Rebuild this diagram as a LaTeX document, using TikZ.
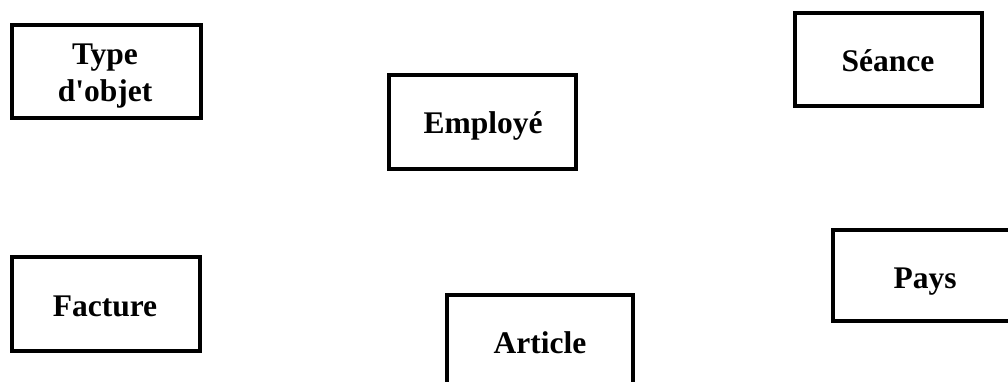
\documentclass[tikz,border=0pt]{standalone}
\usepackage{fontspec}
\setmainfont{Liberation Serif}
\begin{document}
\begin{tikzpicture}[x=1pt,y=-1pt,
  box/.style={draw=black, line width=4pt, rectangle, inner sep=0pt, fill=none},
  lbl/.style={font=\fontsize{31.5}{37}\selectfont\bfseries, inner sep=0pt, anchor=base, align=center}]
\useasboundingbox (0,0) rectangle (1008,382);
\clip (0,0) rectangle (1008,382);
% boxes
\node[box, minimum width=189pt, minimum height=93pt] (type) at (106.5,71.5) {};
\node[box, minimum width=187pt, minimum height=94pt] (emp) at (482.5,122) {};
\node[box, minimum width=187pt, minimum height=93pt] (sea) at (888.5,59.5) {};
\node[box, minimum width=188pt, minimum height=94pt] (fac) at (106,304) {};
\node[box, minimum width=186pt, minimum height=100pt] (art) at (540,345) {};
\node[box, minimum width=187pt, minimum height=91pt] (pay) at (926.5,275.5) {};
% labels
\node[lbl] (typet) at (105,102) {Type\\d\textquotesingle objet};
\node[lbl] (empt) at (483,134) {Employé};
\node[lbl] (seat) at (888,72) {Séance};
\node[lbl] (fact) at (105,316) {Facture};
\node[lbl] (artt) at (540,353) {Article};
\node[lbl] (payt) at (925,288) {Pays};
\end{tikzpicture}
\end{document}
